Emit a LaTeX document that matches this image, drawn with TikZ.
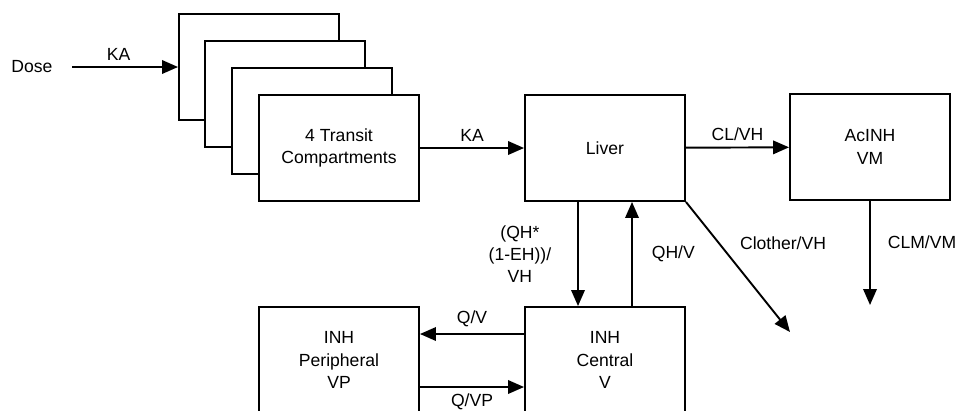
\documentclass[tikz,border=0pt]{standalone}
\usepackage{fontspec}
\setmainfont{Liberation Sans}
\usetikzlibrary{arrows.meta}

\begin{document}
\begin{tikzpicture}[x=0.2mm, y=-0.2mm, line width=1.1pt, font=\fontsize{10}{12.6}\selectfont]
    \useasboundingbox (0,0) rectangle (960,410);
    \clip (0,0) rectangle (960,410);
    \begin{scope}[every node/.style={rectangle, draw=black, fill=white, line width=1.1pt, minimum width=32mm, minimum height=21.2mm, align=center, inner sep=0pt}]
        \node (T1) at (259,67) {};
        \node (T2) at (285,94) {};
        \node (T3) at (312,121) {};
        \node (T4) at (339,148) {4 Transit\\Compartments};
        \node (Liver) at (605,148) {Liver};
        \node (AcINH) at (870,147) {AcINH\\VM};
        \node (Central) at (605,360) {INH\\Central\\V};
        \node (Periph) at (339,360) {INH\\Peripheral\\VP};
    \end{scope}
    \node (Dose) at (32,67) {Dose};
    \coordinate (Other) at (790,332);
    \coordinate (Urine) at (870,305);
    \begin{scope}[every edge/.style={draw=black, -{Triangle[length=3.2mm, width=2.7mm]}}]
        \draw (Dose) edge[shorten <=2.6mm] node[above]{KA} (T1);
        \draw (T4) edge node[above]{KA} (Liver);
        \draw (Liver) edge node[above]{CL/VH} (AcINH);
        \draw ([xshift=-5.4mm]Liver.south) edge node[left=4mm, align=center]{(QH*\\(1-EH))/\\VH} ([xshift=-5.4mm]Central.north);
        \draw ([xshift=5.4mm]Central.north) edge node[right=2.6mm]{QH/V} ([xshift=5.4mm]Liver.south);
        \draw (Liver.south east) edge node[pos=0.32, right=2.8mm]{Clother/VH} (Other);
        \draw (AcINH) edge node[pos=0.4, right=2.2mm]{CLM/VM} (Urine);
        \draw ([yshift=5.2mm]Central.west) edge node[above]{Q/V} ([yshift=5.2mm]Periph.east);
        \draw ([yshift=-5.4mm]Periph.east) edge node[below]{Q/VP} ([yshift=-5.4mm]Central.west);
    \end{scope}
\end{tikzpicture}
\end{document}
